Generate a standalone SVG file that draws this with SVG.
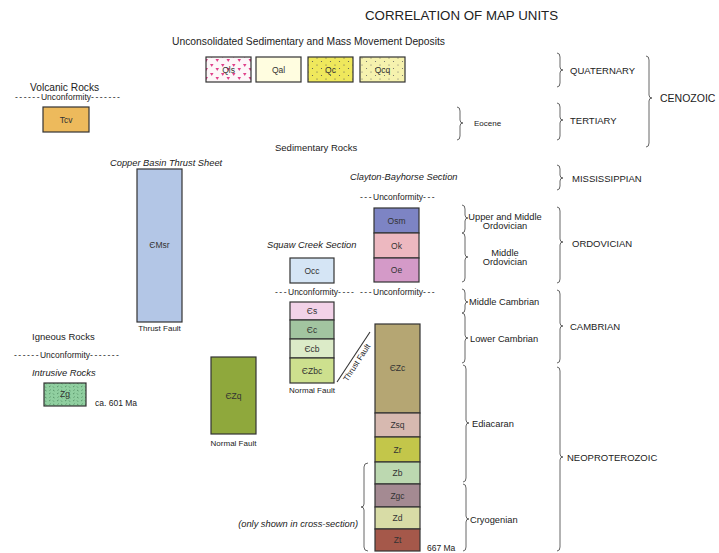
<svg xmlns="http://www.w3.org/2000/svg" width="719" height="553" viewBox="0 0 719 553">
<defs>
<pattern id="pQls" width="11" height="9" patternUnits="userSpaceOnUse">
<rect width="11" height="9" fill="#fdf6f8"/>
<polygon points="1,1 4.5,1 2.75,4" fill="#e0408a"/>
<polygon points="6.5,5 10,5 8.25,8" fill="#e0408a"/>
</pattern>
<pattern id="pQc" width="9" height="7" patternUnits="userSpaceOnUse">
<rect width="9" height="7" fill="#efe85c"/>
<circle cx="2" cy="2" r="0.6" fill="#555"/>
<circle cx="6.5" cy="5.5" r="0.6" fill="#555"/>
</pattern>
<pattern id="pQcq" width="9" height="7" patternUnits="userSpaceOnUse">
<rect width="9" height="7" fill="#f6f2ae"/>
<circle cx="2" cy="2" r="0.55" fill="#666"/>
<circle cx="6.5" cy="5.5" r="0.55" fill="#666"/>
</pattern>
<pattern id="pZg" width="8" height="7" patternUnits="userSpaceOnUse">
<rect width="8" height="7" fill="#90cfa0"/>
<path d="M1,2 l1.5,-1 M5,5 l1.5,1 M5,1.5 l1,1.2 M1.5,5.5 l1.2,-0.8" stroke="#3f7a50" stroke-width="0.7"/>
</pattern>
</defs>
<style>
text{font-family:"Liberation Sans",Arial,sans-serif;fill:#222}
.box{stroke:#333;stroke-width:1.2}
.lbl{font-size:8.5px;text-anchor:middle;fill:#333}
.it{font-style:italic;font-size:9.3px}
.sub{font-size:9.3px}
.per{font-size:9.5px}
.unc{font-size:8.5px}
.d{letter-spacing:1.5px}
.flt{font-size:8px;text-anchor:middle}
.br{fill:none;stroke:#555;stroke-width:0.9}
</style>
<rect width="719" height="553" fill="#fff"/>

<text x="365" y="20" font-size="13.3">CORRELATION OF MAP UNITS</text>
<text x="172" y="45" font-size="10.3">Unconsolidated Sedimentary and Mass Movement Deposits</text>

<g id="Qls"><rect class="box" x="206" y="57" width="45" height="25" fill="url(#pQls)"/><text class="lbl" x="228.5" y="72.5">Qls</text></g>
<g id="Qal"><rect class="box" x="256" y="57" width="45" height="25" fill="#fffde0"/><text class="lbl" x="278.5" y="72.5">Qal</text></g>
<g id="Qc"><rect class="box" x="308" y="57" width="45" height="25" fill="url(#pQc)"/><text class="lbl" x="330.5" y="72.5">Qc</text></g>
<g id="Qcq"><rect class="box" x="360" y="57" width="45" height="25" fill="url(#pQcq)"/><text class="lbl" x="382.5" y="72.5">Qcq</text></g>

<text x="30" y="90.5" font-size="10.2">Volcanic Rocks</text>
<text class="unc" x="15" y="100"><tspan class="d">------</tspan>Unconformity<tspan class="d">-------</tspan></text>
<g id="Tcv"><rect class="box" x="43" y="107" width="46" height="25" fill="#edba5c"/><text class="lbl" x="66" y="122.5">Tcv</text></g>

<text x="275" y="151" font-size="9.5">Sedimentary Rocks</text>

<text class="it" x="110" y="166">Copper Basin Thrust Sheet</text>
<g id="EMsr"><rect class="box" x="137" y="169" width="45" height="153" fill="#b3c6e6"/><text class="lbl" x="159.5" y="248">ЄMsr</text></g>
<text class="flt" x="159.5" y="331">Thrust Fault</text>

<text x="32" y="340" font-size="9.5">Igneous Rocks</text>
<text class="unc" x="14" y="358"><tspan class="d">------</tspan>Unconformity<tspan class="d">-------</tspan></text>
<text class="it" x="32" y="376">Intrusive Rocks</text>
<g id="Zg"><rect class="box" x="44" y="383" width="42" height="23" fill="url(#pZg)"/><text class="lbl" x="65" y="397">Zg</text></g>
<text x="95" y="406" font-size="8.5">ca. 601 Ma</text>

<g id="EZq"><rect class="box" x="211" y="357" width="45" height="77" fill="#8fa83c"/><text class="lbl" x="233.5" y="398.5">ЄZq</text></g>
<text class="flt" x="233.5" y="446">Normal Fault</text>

<text class="it" x="267" y="248">Squaw Creek Section</text>
<g id="Occ"><rect class="box" x="290" y="258" width="44" height="25" fill="#d5e5f5"/><text class="lbl" x="312" y="273.5">Occ</text></g>
<text class="unc" x="275" y="295"><tspan class="d">---</tspan>Unconformity<tspan class="d">----</tspan></text>
<g id="Es"><rect class="box" x="290" y="302" width="44" height="18" fill="#f2d2e8"/><text class="lbl" x="312" y="314">Єs</text></g>
<g id="Ec"><rect class="box" x="290" y="320" width="44" height="19" fill="#a2c4a0"/><text class="lbl" x="312" y="332.5">Єc</text></g>
<g id="Ecb"><rect class="box" x="290" y="339" width="44" height="19" fill="#dcebc8"/><text class="lbl" x="312" y="351.5">Єcb</text></g>
<g id="EZbc"><rect class="box" x="290" y="358" width="44" height="25" fill="#cde08e"/><text class="lbl" x="312" y="373.5">ЄZbc</text></g>
<text class="flt" x="312" y="393">Normal Fault</text>

<g id="connectors">
<line x1="337" y1="382" x2="370" y2="332" stroke="#333" stroke-width="1.1"/>
</g>
<text class="flt" transform="translate(359,364) rotate(-57)">Thrust Fault</text>

<text class="it" x="350" y="180">Clayton-Bayhorse Section</text>
<text class="unc" x="360" y="200"><tspan class="d">---</tspan>Unconformity<tspan class="d">---</tspan></text>
<g id="Osm"><rect class="box" x="374" y="208" width="45" height="25" fill="#7d84c4"/><text class="lbl" x="396.5" y="223.5">Osm</text></g>
<g id="Ok"><rect class="box" x="374" y="233" width="45" height="25" fill="#edb8c0"/><text class="lbl" x="396.5" y="248.5">Ok</text></g>
<g id="Oe"><rect class="box" x="374" y="258" width="45" height="24" fill="#d49ac8"/><text class="lbl" x="396.5" y="273">Oe</text></g>
<text class="unc" x="360" y="295"><tspan class="d">---</tspan>Unconformity<tspan class="d">---</tspan></text>

<g id="EZc"><rect class="box" x="375" y="324" width="45" height="89" fill="#b5a673"/><text class="lbl" x="397.5" y="371">ЄZc</text></g>
<g id="Zsq"><rect class="box" x="375" y="413" width="45" height="24" fill="#d7b9b0"/><text class="lbl" x="397.5" y="428">Zsq</text></g>
<g id="Zr"><rect class="box" x="375" y="437" width="45" height="25" fill="#c3c64a"/><text class="lbl" x="397.5" y="452.5">Zr</text></g>
<g id="Zb"><rect class="box" x="375" y="462" width="45" height="22" fill="#bcd8b0"/><text class="lbl" x="397.5" y="476">Zb</text></g>
<g id="Zgc"><rect class="box" x="375" y="484" width="45" height="23" fill="#a48a92"/><text class="lbl" x="397.5" y="498.5">Zgc</text></g>
<g id="Zd"><rect class="box" x="375" y="507" width="45" height="22" fill="#d8dca6"/><text class="lbl" x="397.5" y="521">Zd</text></g>
<g id="Zt"><rect class="box" x="375" y="529" width="45" height="22" fill="#a5584a"/><text class="lbl" x="397.5" y="543">Zt</text></g>
<text x="427" y="551" font-size="8.5">667 Ma</text>

<text class="it" x="358" y="527" text-anchor="end">(only shown in cross-section)</text>
<path class="br" d="M368,463 Q364,463 364,467 L364,504 Q364,507 361,507 Q364,507 364,510 L364,547 Q364,551 368,551"/>

<g id="braces">
<path class="br" d="M457,107 Q460,107 460,111 L460,120 Q460,123 463,123 Q460,123 460,126 L460,136 Q460,140 457,140"/>
<path class="br" d="M557,53 Q560,53 560,57 L560,67 Q560,70 563,70 Q560,70 560,73 L560,83 Q560,87 557,87"/>
<path class="br" d="M557,103 Q560,103 560,107 L560,117 Q560,120 563,120 Q560,120 560,123 L560,136 Q560,140 557,140"/>
<path class="br" d="M646,56 Q649,56 649,60 L649,95 Q649,98 652,98 Q649,98 649,101 L649,143 Q649,147 646,147"/>
<path class="br" d="M557,165 Q560,165 560,169 L560,175 Q560,178 563,178 Q560,178 560,181 L560,186 Q560,190 557,190"/>
<path class="br" d="M462,205 Q465,205 465,209 L465,215 Q465,218 468,218 Q465,218 465,221 L465,229 Q465,233 462,233"/>
<path class="br" d="M462,233 Q465,233 465,237 L465,254 Q465,257 468,257 Q465,257 465,260 L465,278 Q465,282 462,282"/>
<path class="br" d="M557,207 Q560,207 560,211 L560,239 Q560,242 563,242 Q560,242 560,245 L560,279 Q560,283 557,283"/>
<path class="br" d="M462,289 Q465,289 465,293 L465,299 Q465,302 468,302 Q465,302 465,305 L465,309 Q465,313 462,313"/>
<path class="br" d="M462,313 Q465,313 465,317 L465,335 Q465,338 468,338 Q465,338 465,341 L465,359 Q465,363 462,363"/>
<path class="br" d="M557,290 Q560,290 560,294 L560,323 Q560,326 563,326 Q560,326 560,329 L560,359 Q560,363 557,363"/>
<path class="br" d="M463,365 Q466,365 466,369 L466,420 Q466,423 469,423 Q466,423 466,426 L466,478 Q466,482 463,482"/>
<path class="br" d="M463,484 Q466,484 466,488 L466,516 Q466,519 469,519 Q466,519 466,522 L466,547 Q466,551 463,551"/>
<path class="br" d="M557,367 Q560,367 560,371 L560,454 Q560,457 563,457 Q560,457 560,460 L560,547 Q560,551 557,551"/>
</g>

<text x="474" y="126" font-size="8">Eocene</text>
<text class="per" x="570" y="73.5">QUATERNARY</text>
<text class="per" x="570" y="123.5">TERTIARY</text>
<text x="660" y="102" font-size="10.5">CENOZOIC</text>
<text class="per" x="572" y="181.5">MISSISSIPPIAN</text>
<text class="per" x="572" y="246.5">ORDOVICIAN</text>
<text class="per" x="570" y="329.5">CAMBRIAN</text>
<text class="per" x="567" y="460.5">NEOPROTEROZOIC</text>

<text class="sub" text-anchor="middle" x="505" y="219.5">Upper and Middle</text>
<text class="sub" text-anchor="middle" x="505" y="229">Ordovician</text>
<text class="sub" text-anchor="middle" x="505" y="255.5">Middle</text>
<text class="sub" text-anchor="middle" x="505" y="265">Ordovician</text>
<text class="sub" x="469" y="305">Middle Cambrian</text>
<text class="sub" x="470" y="341.5">Lower Cambrian</text>
<text class="sub" x="472" y="426.5">Ediacaran</text>
<text class="sub" x="470" y="522.5">Cryogenian</text>
</svg>
